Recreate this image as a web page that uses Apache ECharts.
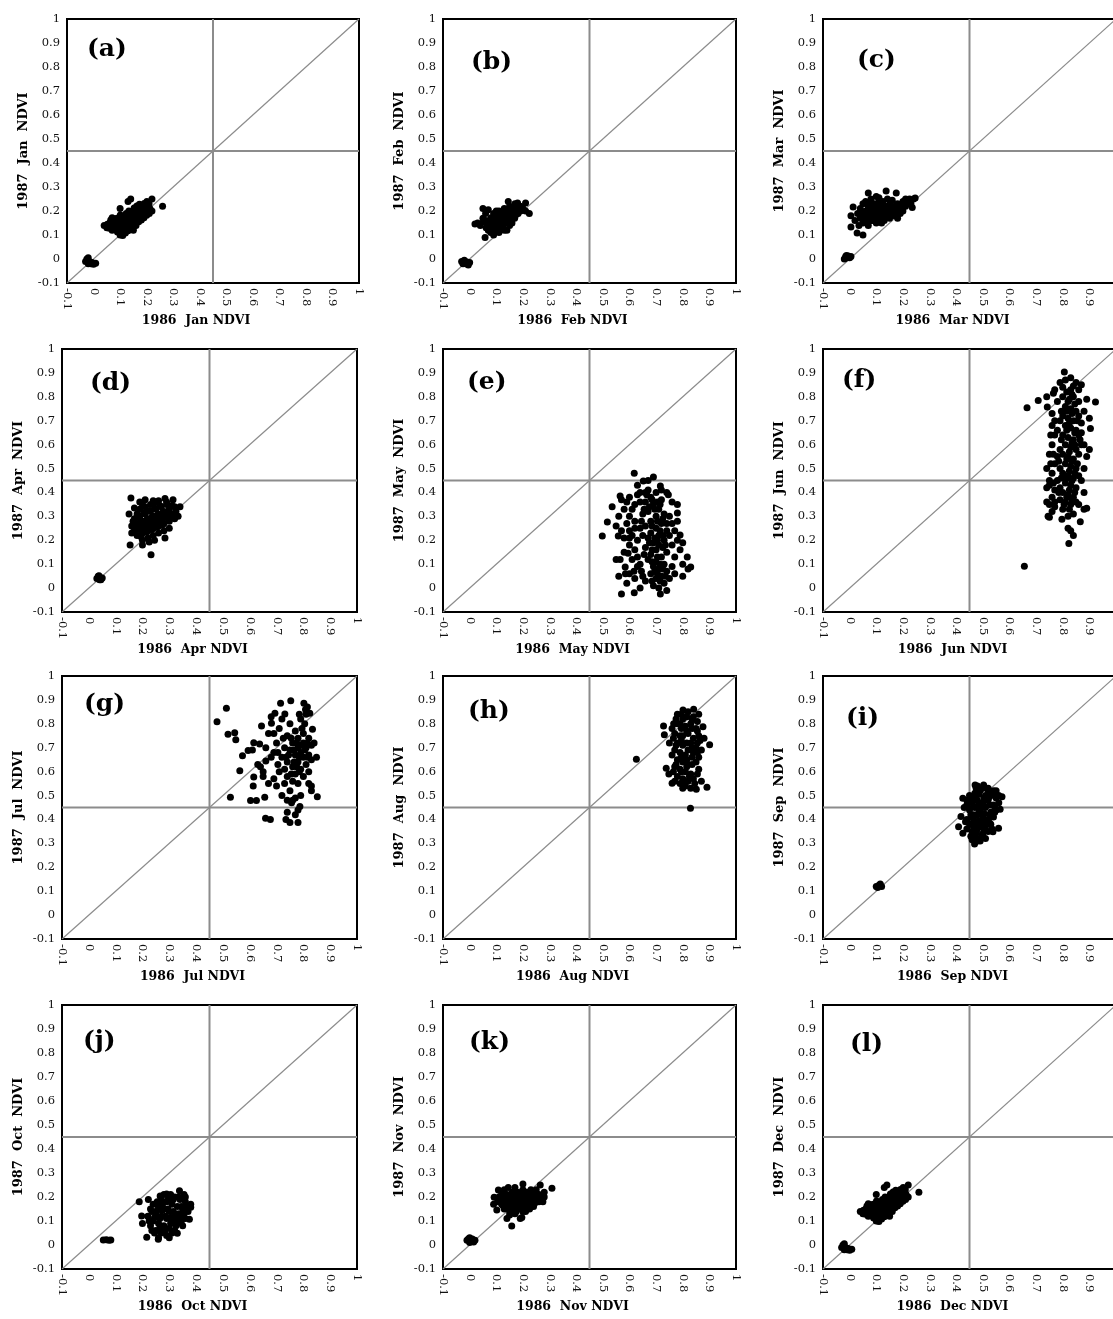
<!DOCTYPE html>
<html>
<head>
<meta charset="utf-8">
<script src="https://cdn.jsdelivr.net/npm/echarts@6/dist/echarts.min.js"></script>
<style>
html,body{margin:0;padding:0;background:#fff;}
#chart{width:1113px;height:1319px;}
</style>
</head>
<body>
<div id="chart"></div>
<script>
// ---------- labels ----------
const months = ['Jan','Feb','Mar','Apr','May','Jun','Jul','Aug','Sep','Oct','Nov','Dec'];
const panelLetters = ['(a)','(b)','(c)','(d)','(e)','(f)','(g)','(h)','(i)','(j)','(k)','(l)'];
const yearX = '1986';
const yearY = '1987';
const tickLabels = ['-0.1','0','0.1','0.2','0.3','0.4','0.5','0.6','0.7','0.8','0.9','1'];

// ---------- reference lines (data space) ----------
const diagLine = [[-0.1,-0.1],[1,1]];
const vLine = [[0.45,-0.1],[0.45,1]];
const hLine = [[-0.1,0.45],[1,0.45]];

// ---------- data: [1986 NDVI, 1987 NDVI] ----------
const jan = [
[-0.03,-0.01],[-0.025,0.0],[-0.02,-0.02],[-0.015,-0.01],[-0.01,-0.02],[-0.005,-0.015],[0.0,-0.022],[0.008,-0.018],[-0.02,0.005],
[0.04,0.14],[0.05,0.13],[0.052,0.145],[0.06,0.128],[0.062,0.152],[0.065,0.163],[0.07,0.12],[0.072,0.148],[0.07,0.172],
[0.08,0.131],[0.083,0.142],[0.079,0.158],[0.085,0.169],[0.09,0.112],[0.093,0.134],[0.09,0.151],[0.094,0.172],
[0.10,0.10],[0.102,0.121],[0.099,0.139],[0.103,0.162],[0.101,0.183],[0.10,0.21],[0.11,0.098],[0.112,0.123],[0.108,0.142],[0.113,0.158],[0.11,0.178],
[0.12,0.108],[0.122,0.131],[0.119,0.149],[0.121,0.171],[0.123,0.19],[0.13,0.118],[0.132,0.142],[0.129,0.161],[0.131,0.181],[0.133,0.2],[0.13,0.24],
[0.14,0.125],[0.142,0.139],[0.139,0.158],[0.141,0.178],[0.143,0.198],[0.14,0.25],[0.15,0.132],[0.152,0.151],[0.149,0.171],[0.151,0.19],[0.153,0.212],[0.15,0.12],
[0.16,0.14],[0.162,0.161],[0.159,0.18],[0.161,0.2],[0.163,0.221],[0.17,0.155],[0.172,0.171],[0.169,0.188],[0.171,0.21],[0.173,0.228],
[0.18,0.162],[0.182,0.181],[0.179,0.2],[0.181,0.219],[0.19,0.172],[0.192,0.19],[0.189,0.21],[0.191,0.231],
[0.20,0.182],[0.202,0.2],[0.199,0.221],[0.201,0.24],[0.21,0.19],[0.212,0.21],[0.209,0.23],[0.22,0.2],[0.22,0.25],[0.26,0.22],
[0.095,0.16],[0.115,0.135],[0.125,0.16],[0.135,0.17],[0.145,0.19],[0.155,0.16],[0.165,0.19],[0.175,0.2],[0.185,0.21],[0.195,0.2],[0.205,0.21]
];
const feb = [
[-0.03,-0.01],[-0.025,-0.02],[-0.02,-0.005],[-0.015,-0.02],[-0.01,-0.013],[-0.005,-0.025],[0.0,-0.015],
[0.02,0.146],[0.03,0.15],[0.04,0.14],[0.05,0.21],[0.05,0.17],[0.052,0.155],[0.06,0.16],[0.062,0.13],[0.058,0.09],[0.07,0.205],[0.068,0.15],[0.07,0.12],
[0.08,0.172],[0.082,0.141],[0.079,0.11],[0.09,0.19],[0.088,0.16],[0.091,0.13],[0.09,0.10],[0.10,0.18],[0.102,0.151],[0.099,0.12],
[0.11,0.20],[0.112,0.17],[0.109,0.14],[0.11,0.11],[0.12,0.19],[0.118,0.16],[0.121,0.13],[0.13,0.21],[0.132,0.18],[0.129,0.15],[0.13,0.12],
[0.14,0.12],[0.141,0.20],[0.139,0.17],[0.145,0.24],[0.15,0.22],[0.152,0.19],[0.149,0.16],[0.15,0.14],[0.16,0.21],[0.162,0.18],[0.159,0.15],
[0.17,0.23],[0.171,0.20],[0.169,0.17],[0.18,0.233],[0.18,0.21],[0.182,0.19],[0.19,0.22],[0.191,0.20],[0.20,0.21],[0.21,0.233],[0.21,0.20],[0.224,0.19],
[0.06,0.19],[0.10,0.20],
[0.085,0.155],[0.095,0.175],[0.105,0.165],[0.115,0.155],[0.125,0.175],[0.135,0.165],[0.145,0.185],[0.155,0.175],[0.165,0.195],[0.175,0.185],
[0.185,0.205],[0.195,0.21],[0.125,0.14],[0.14,0.15],[0.075,0.16],[0.10,0.135]
];
const mar = [
[-0.02,0.0],[-0.015,0.01],[-0.01,0.005],[-0.005,0.012],[0.0,0.005],[0.005,0.01],[-0.012,0.015],
[0.005,0.133],[0.005,0.18],[0.013,0.217],[0.028,0.108],[0.05,0.10],[0.02,0.16],[0.03,0.19],[0.035,0.14],[0.04,0.17],[0.04,0.21],
[0.05,0.15],[0.05,0.19],[0.05,0.23],[0.06,0.16],[0.06,0.20],[0.062,0.18],[0.07,0.275],[0.07,0.22],[0.072,0.17],[0.07,0.14],
[0.08,0.25],[0.08,0.19],[0.082,0.16],[0.09,0.21],[0.09,0.18],[0.092,0.23],[0.10,0.17],[0.10,0.20],[0.102,0.22],[0.10,0.15],
[0.11,0.24],[0.11,0.19],[0.112,0.21],[0.12,0.17],[0.12,0.20],[0.122,0.23],[0.13,0.18],[0.13,0.21],[0.137,0.283],[0.14,0.19],[0.14,0.22],[0.142,0.25],
[0.15,0.17],[0.15,0.20],[0.152,0.23],[0.16,0.19],[0.16,0.21],[0.16,0.245],[0.175,0.275],[0.17,0.18],[0.17,0.22],[0.18,0.20],[0.18,0.23],
[0.19,0.19],[0.19,0.21],[0.20,0.24],[0.20,0.20],[0.21,0.22],[0.21,0.25],[0.22,0.24],[0.23,0.23],[0.235,0.215],[0.246,0.254],[0.24,0.25],[0.18,0.17],[0.12,0.15],
[0.065,0.19],[0.075,0.20],[0.085,0.21],[0.095,0.19],[0.105,0.19],[0.115,0.20],[0.125,0.19],[0.135,0.20],[0.145,0.21],[0.155,0.215],[0.165,0.20],
[0.175,0.21],[0.185,0.215],[0.09,0.16],[0.11,0.17],[0.13,0.16],[0.055,0.17],[0.075,0.23],[0.125,0.24],[0.195,0.225],[0.215,0.235],[0.225,0.25],
[0.06,0.24],[0.10,0.26],[0.11,0.255]
];
const apr = [
[0.03,0.04],[0.035,0.05],[0.04,0.045],[0.045,0.035],[0.05,0.042],[0.04,0.035],[0.038,0.052],
[0.157,0.377],[0.21,0.37],[0.24,0.365],[0.284,0.375],[0.314,0.37],[0.34,0.34],[0.333,0.30],[0.15,0.31],[0.154,0.18],[0.232,0.139],[0.284,0.21],[0.225,0.193],
[0.16,0.26],[0.17,0.29],[0.17,0.24],[0.18,0.27],[0.18,0.22],[0.19,0.30],[0.19,0.25],[0.19,0.33],[0.20,0.28],[0.20,0.23],[0.20,0.20],
[0.21,0.31],[0.21,0.26],[0.21,0.34],[0.22,0.29],[0.22,0.24],[0.22,0.21],[0.23,0.32],[0.23,0.27],[0.23,0.35],[0.24,0.30],[0.24,0.25],[0.24,0.22],
[0.25,0.33],[0.25,0.28],[0.25,0.36],[0.26,0.31],[0.26,0.26],[0.26,0.23],[0.27,0.34],[0.27,0.29],[0.28,0.32],[0.28,0.27],[0.28,0.24],
[0.29,0.35],[0.29,0.30],[0.30,0.33],[0.30,0.28],[0.31,0.31],[0.32,0.34],[0.32,0.29],[0.18,0.31],[0.16,0.23],[0.20,0.35],[0.26,0.365],[0.30,0.25],
[0.165,0.28],[0.175,0.265],[0.185,0.245],[0.195,0.275],[0.205,0.255],[0.215,0.285],[0.225,0.265],[0.235,0.295],[0.245,0.275],[0.255,0.305],
[0.265,0.285],[0.275,0.315],[0.285,0.295],[0.295,0.32],[0.305,0.30],[0.215,0.235],[0.235,0.245],[0.255,0.255],[0.275,0.265],[0.195,0.215],
[0.205,0.315],[0.225,0.325],[0.245,0.335],[0.265,0.345],[0.185,0.295],[0.31,0.345],[0.325,0.32],[0.17,0.335],[0.19,0.36],[0.29,0.36],[0.20,0.18],[0.245,0.20]
];
const may = [
[0.618,0.48],[0.69,0.465],[0.652,0.448],[0.716,0.427],[0.498,0.218],[0.517,0.276],[0.535,0.34],[0.565,0.385],[0.558,0.218],[0.58,0.21],
[0.83,0.088],[0.817,0.13],[0.79,0.222],[0.78,0.314],[0.746,0.39],[0.57,-0.025],[0.618,-0.02],[0.716,-0.025],[0.617,0.07],[0.584,0.088],[0.565,0.12],[0.595,0.146],
[0.57,0.37],[0.59,0.36],[0.60,0.38],[0.62,0.35],[0.63,0.39],[0.64,0.36],[0.66,0.40],[0.61,0.33],[0.65,0.31],
[0.75,0.30],[0.76,0.27],[0.77,0.24],[0.78,0.20],[0.76,0.18],[0.79,0.16],[0.77,0.13],[0.80,0.10],[0.75,0.22],[0.78,0.28],[0.80,0.19],
[0.67,0.41],[0.70,0.40],[0.68,0.38],[0.72,0.37],[0.69,0.35],[0.71,0.33],[0.67,0.32],[0.73,0.31],[0.70,0.30],[0.68,0.28],[0.72,0.27],[0.66,0.26],
[0.70,0.25],[0.74,0.24],[0.68,0.23],[0.71,0.22],[0.67,0.21],[0.73,0.20],[0.69,0.19],[0.71,0.18],[0.66,0.17],[0.70,0.16],[0.74,0.15],[0.68,0.14],
[0.72,0.13],[0.67,0.12],[0.70,0.11],[0.73,0.10],[0.69,0.09],[0.71,0.08],[0.74,0.07],[0.68,0.06],[0.72,0.05],[0.70,0.04],[0.73,0.02],[0.69,0.01],
[0.71,0.0],[0.74,-0.01],[0.65,0.05],[0.64,0.10],[0.63,0.20],[0.64,0.25],[0.62,0.28],[0.65,0.22],[0.62,0.16],[0.63,0.13],[0.60,0.24],[0.60,0.18],
[0.61,0.12],[0.60,0.06],[0.62,0.04],[0.64,0.00],[0.66,0.03],[0.75,0.04],[0.76,0.09],[0.77,0.06],[0.66,0.36],[0.60,0.30],[0.56,0.30],[0.55,0.26],
[0.57,0.24],[0.59,0.27],[0.58,0.15],[0.55,0.12],[0.56,0.05],[0.59,0.02],[0.80,0.05],[0.82,0.08],[0.78,0.35],[0.76,0.36],[0.74,0.40],[0.63,0.43],[0.67,0.45],
[0.665,0.39],[0.685,0.37],[0.705,0.36],[0.695,0.33],[0.715,0.35],[0.675,0.34],[0.705,0.28],[0.685,0.26],[0.715,0.24],[0.695,0.21],[0.675,0.19],
[0.705,0.20],[0.725,0.22],[0.685,0.16],[0.725,0.17],[0.705,0.13],[0.685,0.11],[0.715,0.10],[0.695,0.07],[0.725,0.08],[0.705,0.06],[0.685,0.03],
[0.715,0.03],[0.735,0.05],[0.655,0.14],[0.645,0.28],[0.655,0.33],[0.725,0.29],[0.74,0.27],[0.735,0.18],[0.645,0.07],[0.63,0.09],[0.61,0.22],
[0.62,0.25],[0.60,0.21],[0.72,0.41],[0.64,0.40],[0.58,0.33],[0.585,0.06]
];
const jun = [
[0.806,0.904],[0.666,0.754],[0.708,0.785],[0.742,0.757],[0.923,0.778],[0.765,0.815],[0.656,0.091],[0.823,0.187],[0.75,0.296],[0.797,0.288],
[0.89,0.334],[0.904,0.668],[0.83,0.24],[0.866,0.277],
[0.79,0.86],[0.81,0.87],[0.83,0.88],[0.85,0.86],[0.80,0.84],[0.84,0.845],[0.86,0.83],[0.87,0.85],
[0.89,0.79],[0.88,0.74],[0.90,0.71],[0.88,0.60],[0.89,0.55],[0.90,0.58],[0.87,0.65],[0.88,0.50],[0.87,0.45],[0.88,0.40],[0.86,0.35],[0.88,0.33],
[0.74,0.42],[0.75,0.45],[0.76,0.48],[0.74,0.50],[0.77,0.52],[0.75,0.56],[0.76,0.60],[0.77,0.64],[0.76,0.68],[0.78,0.66],[0.75,0.35],[0.76,0.38],
[0.77,0.41],[0.74,0.36],[0.77,0.34],[0.78,0.45],[0.78,0.55],[0.76,0.73],[0.74,0.80],[0.78,0.78],[0.77,0.83],[0.77,0.36],[0.75,0.43],
[0.80,0.80],[0.82,0.78],[0.84,0.80],[0.86,0.78],[0.81,0.76],[0.83,0.75],[0.85,0.74],[0.80,0.72],[0.82,0.71],[0.84,0.70],[0.86,0.72],[0.81,0.68],
[0.83,0.67],[0.85,0.66],[0.80,0.64],[0.82,0.63],[0.84,0.62],[0.86,0.64],[0.81,0.60],[0.83,0.59],[0.85,0.58],[0.80,0.56],[0.82,0.55],[0.84,0.54],
[0.86,0.56],[0.81,0.52],[0.83,0.51],[0.85,0.50],[0.80,0.48],[0.82,0.47],[0.84,0.46],[0.86,0.47],[0.81,0.44],[0.83,0.43],[0.85,0.42],[0.80,0.40],
[0.82,0.39],[0.84,0.38],[0.79,0.37],[0.81,0.36],[0.83,0.35],[0.85,0.36],[0.80,0.33],[0.84,0.31],[0.82,0.30],[0.79,0.58],[0.79,0.70],[0.87,0.60],
[0.87,0.69],[0.79,0.50],[0.83,0.83],[0.82,0.25],[0.84,0.22],[0.79,0.42],
[0.815,0.82],[0.835,0.81],[0.825,0.79],[0.845,0.77],[0.815,0.74],[0.835,0.73],[0.825,0.69],[0.845,0.65],[0.815,0.66],[0.835,0.61],[0.825,0.57],
[0.845,0.60],[0.815,0.54],[0.835,0.53],[0.825,0.49],[0.845,0.48],[0.815,0.46],[0.835,0.45],[0.825,0.41],[0.845,0.40],[0.815,0.38],[0.835,0.37],
[0.825,0.33],[0.805,0.35],[0.795,0.62],[0.795,0.74],[0.795,0.46],[0.855,0.52],[0.855,0.70],[0.865,0.62],[0.765,0.44],[0.755,0.52],[0.765,0.56],
[0.755,0.64],[0.77,0.70],[0.785,0.53],[0.785,0.40],[0.76,0.32],[0.745,0.30]
];
const jul = [
[0.478,0.809],[0.513,0.865],[0.519,0.756],[0.544,0.763],[0.548,0.733],[0.573,0.666],[0.563,0.604],[0.528,0.493],[0.594,0.688],[0.61,0.69],
[0.603,0.479],[0.625,0.479],[0.615,0.578],[0.613,0.54],[0.615,0.721],[0.644,0.791],[0.637,0.716],[0.656,0.493],[0.659,0.405],[0.677,0.40],
[0.681,0.802],[0.694,0.844],[0.715,0.886],[0.731,0.841],[0.753,0.897],[0.802,0.886],[0.808,0.86],[0.824,0.844],[0.834,0.777],[0.849,0.66],
[0.83,0.54],[0.83,0.52],[0.852,0.495],[0.75,0.387],[0.78,0.387],[0.735,0.40],[0.74,0.48],[0.756,0.47],[0.787,0.454],[0.77,0.49],
[0.63,0.63],[0.64,0.62],[0.65,0.58],[0.66,0.645],[0.67,0.55],[0.68,0.66],[0.69,0.57],[0.68,0.83],[0.69,0.76],[0.70,0.72],[0.66,0.70],[0.67,0.76],
[0.70,0.54],[0.71,0.60],[0.72,0.66],[0.71,0.78],[0.72,0.82],[0.73,0.70],[0.73,0.61],[0.73,0.55],[0.74,0.75],[0.74,0.64],[0.74,0.58],[0.75,0.80],
[0.75,0.69],[0.75,0.52],[0.76,0.72],[0.76,0.62],[0.76,0.56],[0.77,0.77],[0.77,0.67],[0.77,0.59],[0.78,0.74],[0.78,0.64],[0.78,0.70],[0.78,0.55],
[0.79,0.82],[0.79,0.68],[0.79,0.61],[0.80,0.76],[0.80,0.72],[0.80,0.66],[0.80,0.58],[0.81,0.84],[0.81,0.70],[0.81,0.63],[0.82,0.74],[0.82,0.67],
[0.82,0.60],[0.83,0.71],[0.83,0.65],[0.84,0.72],[0.82,0.55],[0.76,0.48],[0.79,0.50],[0.78,0.44],[0.77,0.42],[0.74,0.43],[0.72,0.50],[0.705,0.63],
[0.69,0.68],[0.65,0.60],
[0.745,0.67],[0.765,0.69],[0.785,0.66],[0.755,0.74],[0.775,0.72],[0.795,0.71],[0.765,0.64],[0.785,0.60],[0.805,0.69],[0.815,0.66],[0.795,0.78],
[0.805,0.80],[0.775,0.62],[0.755,0.59],[0.815,0.72],[0.735,0.66],[0.725,0.74],[0.705,0.68],[0.785,0.84],[0.815,0.87]
];
const aug = [
[0.829,0.447],[0.626,0.652],[0.728,0.791],[0.731,0.754],[0.766,0.80],[0.801,0.858],[0.841,0.861],[0.876,0.788],[0.901,0.712],[0.891,0.535],
[0.851,0.526],[0.80,0.53],[0.76,0.551],[0.748,0.59],[0.738,0.614],[0.79,0.55],[0.87,0.56],
[0.78,0.84],[0.80,0.82],[0.82,0.85],[0.84,0.83],[0.86,0.84],[0.78,0.80],[0.81,0.79],[0.83,0.80],[0.85,0.78],[0.77,0.76],[0.79,0.75],[0.82,0.76],
[0.84,0.74],[0.86,0.75],[0.78,0.72],[0.80,0.71],[0.83,0.72],[0.85,0.70],[0.77,0.69],[0.79,0.68],[0.81,0.67],[0.84,0.68],[0.86,0.66],[0.78,0.65],
[0.80,0.64],[0.82,0.63],[0.85,0.64],[0.77,0.62],[0.79,0.61],[0.81,0.60],[0.83,0.59],[0.86,0.61],[0.78,0.58],[0.80,0.57],[0.82,0.56],[0.84,0.57],
[0.76,0.67],[0.75,0.72],[0.76,0.78],[0.87,0.69],[0.88,0.74],[0.81,0.54],[0.83,0.53],[0.77,0.56],[0.82,0.69],[0.80,0.75],
[0.795,0.84],[0.815,0.83],[0.835,0.82],[0.855,0.81],[0.795,0.78],[0.815,0.77],[0.835,0.78],[0.855,0.77],[0.795,0.73],[0.815,0.72],[0.835,0.70],
[0.855,0.72],[0.795,0.66],[0.815,0.65],[0.835,0.66],[0.855,0.68],[0.795,0.60],[0.815,0.62],[0.835,0.63],[0.855,0.59],[0.805,0.56],[0.825,0.58],
[0.775,0.71],[0.775,0.63],[0.765,0.60],[0.775,0.82],[0.865,0.73],[0.765,0.74],[0.845,0.55],[0.79,0.80]
];
const sep = [
[0.10,0.12],[0.11,0.125],[0.12,0.12],[0.115,0.13],[0.105,0.115],
[0.471,0.544],[0.503,0.544],[0.425,0.489],[0.572,0.495],[0.565,0.443],[0.559,0.363],[0.538,0.349],[0.469,0.297],[0.46,0.315],[0.49,0.32],
[0.425,0.342],[0.409,0.37],[0.44,0.36],[0.418,0.412],[0.43,0.45],
[0.45,0.50],[0.47,0.51],[0.49,0.52],[0.51,0.50],[0.53,0.51],[0.55,0.49],[0.46,0.47],[0.48,0.48],[0.50,0.47],[0.52,0.48],[0.54,0.46],[0.45,0.44],
[0.47,0.45],[0.49,0.44],[0.51,0.45],[0.53,0.43],[0.55,0.44],[0.46,0.41],[0.48,0.42],[0.50,0.41],[0.52,0.40],[0.54,0.41],[0.45,0.38],[0.47,0.39],
[0.49,0.38],[0.51,0.37],[0.53,0.38],[0.46,0.35],[0.48,0.36],[0.50,0.34],[0.52,0.35],[0.47,0.33],[0.49,0.31],[0.44,0.40],[0.52,0.53],[0.55,0.52],
[0.44,0.46],[0.56,0.47],[0.48,0.54],[0.51,0.32],
[0.465,0.495],[0.485,0.505],[0.505,0.49],[0.525,0.495],[0.545,0.50],[0.465,0.455],[0.485,0.465],[0.505,0.455],[0.525,0.46],[0.545,0.45],
[0.465,0.42],[0.485,0.43],[0.505,0.425],[0.525,0.42],[0.465,0.40],[0.485,0.395],[0.505,0.39],[0.525,0.385],[0.465,0.37],[0.485,0.37],
[0.505,0.36],[0.535,0.36],[0.475,0.345],[0.495,0.335],[0.455,0.42],[0.475,0.53],[0.50,0.53],[0.52,0.52],[0.54,0.52],[0.455,0.485],
[0.44,0.48],[0.435,0.39],[0.455,0.33],[0.48,0.31],[0.545,0.43],[0.56,0.50]
];
const oct = [
[0.054,0.021],[0.065,0.022],[0.075,0.02],[0.082,0.021],
[0.188,0.18],[0.222,0.19],[0.266,0.204],[0.29,0.2125],[0.305,0.21],[0.338,0.226],[0.36,0.20],[0.38,0.157],[0.375,0.107],[0.33,0.049],
[0.259,0.024],[0.216,0.032],[0.197,0.121],[0.20,0.09],[0.235,0.14],
[0.22,0.12],[0.23,0.08],[0.24,0.17],[0.24,0.10],[0.25,0.13],[0.25,0.06],[0.26,0.16],[0.26,0.09],[0.27,0.19],[0.27,0.12],[0.27,0.05],[0.28,0.15],
[0.28,0.08],[0.29,0.18],[0.29,0.11],[0.29,0.04],[0.30,0.14],[0.30,0.07],[0.31,0.17],[0.31,0.10],[0.32,0.20],[0.32,0.13],[0.32,0.06],[0.33,0.16],
[0.33,0.09],[0.34,0.19],[0.34,0.12],[0.35,0.15],[0.35,0.08],[0.36,0.18],[0.36,0.11],[0.37,0.14],[0.38,0.17],[0.30,0.03],[0.28,0.21],[0.23,0.15],[0.26,0.03],
[0.245,0.115],[0.255,0.145],[0.265,0.11],[0.275,0.145],[0.285,0.12],[0.295,0.15],[0.305,0.115],[0.315,0.14],[0.325,0.11],[0.335,0.13],
[0.345,0.16],[0.355,0.13],[0.265,0.07],[0.285,0.06],[0.305,0.09],[0.325,0.08],[0.295,0.19],[0.315,0.19],[0.335,0.20],[0.355,0.21],
[0.365,0.16],[0.245,0.05],[0.235,0.06],[0.225,0.10],[0.255,0.18],[0.275,0.17],[0.31,0.05],[0.345,0.10]
];
const nov = [
[-0.01,0.02],[0.0,0.03],[0.005,0.015],[0.01,0.025],[0.02,0.02],[0.0,0.01],[-0.005,0.025],[0.015,0.012],
[0.092,0.199],[0.108,0.229],[0.145,0.24],[0.20,0.254],[0.265,0.25],[0.309,0.236],[0.28,0.22],[0.275,0.18],[0.196,0.115],[0.158,0.079],
[0.102,0.146],[0.09,0.17],
[0.11,0.20],[0.12,0.17],[0.12,0.22],[0.13,0.15],[0.13,0.19],[0.14,0.21],[0.14,0.17],[0.15,0.14],[0.15,0.19],[0.16,0.22],[0.16,0.16],[0.17,0.20],
[0.17,0.13],[0.18,0.18],[0.18,0.22],[0.19,0.15],[0.19,0.20],[0.20,0.17],[0.20,0.23],[0.21,0.19],[0.21,0.14],[0.22,0.21],[0.22,0.17],[0.23,0.19],
[0.23,0.23],[0.24,0.16],[0.24,0.21],[0.25,0.19],[0.25,0.23],[0.26,0.18],[0.26,0.21],[0.27,0.20],[0.17,0.24],[0.14,0.11],[0.19,0.11],[0.13,0.23],[0.28,0.20],
[0.115,0.185],[0.125,0.20],[0.135,0.18],[0.145,0.20],[0.155,0.18],[0.165,0.21],[0.175,0.18],[0.185,0.20],[0.195,0.18],[0.205,0.20],[0.215,0.17],
[0.225,0.20],[0.235,0.18],[0.245,0.20],[0.255,0.21],[0.265,0.20],[0.155,0.21],[0.145,0.16],[0.175,0.16],[0.195,0.22],[0.215,0.22],[0.235,0.21],
[0.165,0.15],[0.185,0.16],[0.205,0.16],[0.125,0.165],[0.105,0.18],[0.15,0.125],[0.175,0.14],[0.20,0.14],[0.225,0.15],[0.245,0.175]
];
const dec = [
[-0.03,-0.01],[-0.025,0.0],[-0.02,-0.02],[-0.015,-0.01],[-0.01,-0.02],[-0.005,-0.015],[0.0,-0.022],[0.008,-0.018],[-0.02,0.005],
[0.04,0.14],[0.05,0.13],[0.052,0.145],[0.06,0.128],[0.062,0.152],[0.065,0.163],[0.07,0.12],[0.072,0.148],[0.07,0.172],
[0.08,0.131],[0.083,0.142],[0.079,0.158],[0.085,0.169],[0.09,0.112],[0.093,0.134],[0.09,0.151],[0.094,0.172],
[0.10,0.10],[0.102,0.121],[0.099,0.139],[0.103,0.162],[0.101,0.183],[0.10,0.21],[0.11,0.098],[0.112,0.123],[0.108,0.142],[0.113,0.158],[0.11,0.178],
[0.12,0.108],[0.122,0.131],[0.119,0.149],[0.121,0.171],[0.123,0.19],[0.13,0.118],[0.132,0.142],[0.129,0.161],[0.131,0.181],[0.133,0.2],[0.13,0.24],
[0.14,0.125],[0.142,0.139],[0.139,0.158],[0.141,0.178],[0.143,0.198],[0.14,0.25],[0.15,0.132],[0.152,0.151],[0.149,0.171],[0.151,0.19],[0.153,0.212],[0.15,0.12],
[0.16,0.14],[0.162,0.161],[0.159,0.18],[0.161,0.2],[0.163,0.221],[0.17,0.155],[0.172,0.171],[0.169,0.188],[0.171,0.21],[0.173,0.228],
[0.18,0.162],[0.182,0.181],[0.179,0.2],[0.181,0.219],[0.19,0.172],[0.192,0.19],[0.189,0.21],[0.191,0.231],
[0.20,0.182],[0.202,0.2],[0.199,0.221],[0.201,0.24],[0.21,0.19],[0.212,0.21],[0.209,0.23],[0.22,0.2],[0.22,0.25],[0.26,0.22],
[0.095,0.16],[0.115,0.135],[0.125,0.16],[0.135,0.17],[0.145,0.19],[0.155,0.16],[0.165,0.19],[0.175,0.2],[0.185,0.21],[0.195,0.2],[0.205,0.21]
];
const monthData = [jan,feb,mar,apr,may,jun,jul,aug,sep,oct,nov,dec];

// ---------- layout ----------
const gridBoxes = [
  {left:67, top:19, width:292, height:264},
  {left:443,top:19, width:293, height:264},
  {left:823,top:19, width:293, height:264},
  {left:62, top:349,width:295, height:263},
  {left:443,top:349,width:293, height:263},
  {left:823,top:349,width:293, height:263},
  {left:62, top:676,width:295, height:263},
  {left:443,top:676,width:293, height:263},
  {left:823,top:676,width:293, height:263},
  {left:62, top:1005,width:295,height:264},
  {left:443,top:1005,width:293,height:264},
  {left:823,top:1005,width:293,height:264}
];
const letterPos = [
  [107,52],[491,65],[877,63],[110,386],[487,385],[862,383],[104,707],[488,714],[866,721],[103,1044],[489,1045],[870,1047]
];

const SERIF = '"DejaVu Serif", "Liberation Serif", serif';
const grids = [], xAxes = [], yAxes = [], series = [], graphics = [];
const fmt = v => tickLabels[Math.round((v + 0.1) * 10)] ?? '';

months.forEach((m, i) => {
  const g = gridBoxes[i];
  grids.push(Object.assign({show:true, borderColor:'#000', borderWidth:2, backgroundColor:'#fff',
    containLabel:false, outerBoundsMode:'none'}, g));
  const common = {
    gridIndex:i, type:'value', min:-0.1, max:1, interval:0.1,
    axisLine:{show:false}, axisTick:{show:false}, splitLine:{show:false},
    nameLocation:'middle'
  };
  xAxes.push(Object.assign({}, common, {
    name: yearX + '  ' + m + ' NDVI', nameGap:19,
    nameTextStyle:{fontFamily:SERIF, fontWeight:'bold', fontSize:12.5, color:'#000', padding:[0,34,0,0]},
    axisLabel:{rotate:-90, margin:5, fontFamily:SERIF, fontSize:11.5, color:'#111', formatter:fmt, showMinLabel:true, showMaxLabel:true}
  }));
  yAxes.push(Object.assign({}, common, {
    name: yearY + '  ' + m + '  NDVI', nameGap:37,
    nameTextStyle:{fontFamily:SERIF, fontWeight:'bold', fontSize:13, color:'#000'},
    axisLabel:{margin:7, fontFamily:SERIF, fontSize:11.5, color:'#111', formatter:fmt, showMinLabel:true, showMaxLabel:true}
  }));
  const ref = (d, w) => ({type:'line', xAxisIndex:i, yAxisIndex:i, data:d, symbol:'none', silent:true,
    lineStyle:{color:'#8c8c8c', width:w}, z:2, animation:false});
  series.push(ref(vLine, 2), ref(hLine, 2), ref(diagLine, 1.2));
  series.push({type:'scatter', xAxisIndex:i, yAxisIndex:i, data:monthData[i], symbolSize:7,
    itemStyle:{color:'#000', opacity:1}, z:5, animation:false, silent:true});
  graphics.push({type:'text', left:letterPos[i][0]-20, top:letterPos[i][1]-15,
    style:{text:panelLetters[i], font:'bold 25px ' + SERIF, fill:'#000'}});
});

const chart = echarts.init(document.getElementById('chart'), null, {renderer:'canvas'});
chart.setOption({
  animation:false,
  backgroundColor:'#fff',
  grid:grids, xAxis:xAxes, yAxis:yAxes, series:series, graphic:graphics
});
</script>
</body>
</html>
